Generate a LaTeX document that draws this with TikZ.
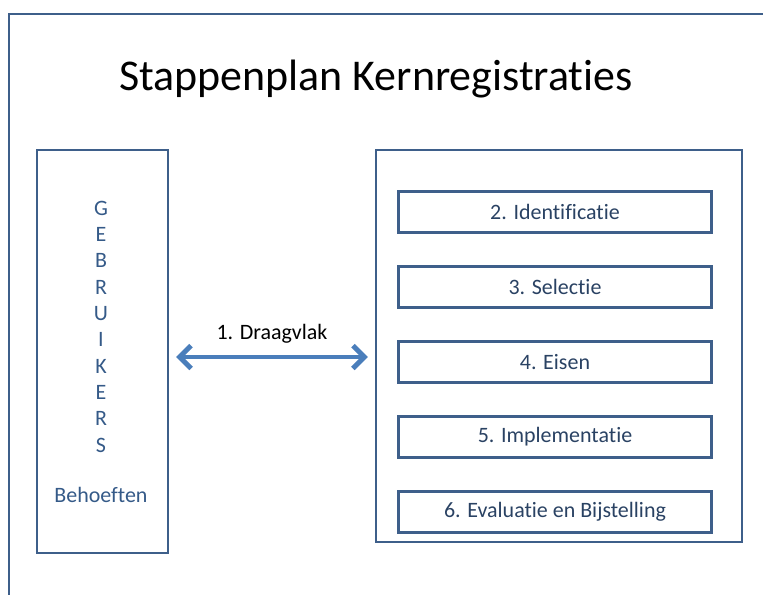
\documentclass[tikz,border=0pt]{standalone}
\usepackage{fontspec}
\setmainfont[Ligatures=CommonOff]{Carlito}
\usetikzlibrary{positioning,arrows.meta}
\usepackage{xcolor}
\definecolor{framblue}{HTML}{3E5F8A}
\definecolor{lettblue}{HTML}{355A88}
\definecolor{stapblue}{HTML}{2A4263}
\definecolor{pijlblue}{HTML}{4A7EBB}

\begin{document}
\begin{tikzpicture}[%
		   kader/.style={draw=framblue,line width=1.3pt,rectangle},
		   stapbox/.style={draw=framblue,line width=1.7pt,rectangle,minimum width=6.26cm,minimum height=0.82cm,text=stapblue,font=\fontsize{12.5}{14}\selectfont},
		   letter/.style={text=lettblue,font=\fontsize{12.5}{14}\selectfont,inner sep=0pt},
		   draagvlak/.style={{Straight Barb[length=6.5pt,width=13pt]}-{Straight Barb[length=6.5pt,width=13pt]},line width=2.8pt,pijlblue}]

	    \useasboundingbox (0,0) rectangle (15.26,-11.88);
	    \draw[draw=framblue,line width=1.1pt] (15.4,-0.28) -- (0.18,-0.28) -- (0.18,-12);

	    \node[font=\fontsize{25}{30}\selectfont](titel) at (7.52,-1.58) {Stappenplan Kernregistraties};

	    \node[kader,minimum width=2.62cm,minimum height=8.06cm](gebr) at (2.05,-7.03) {};
	    \node[kader,minimum width=7.32cm,minimum height=7.84cm](plan) at (11.18,-6.92) {};

	    \foreach \ltr [count=\i] in {G,E,B,R,U,I,K,E,R,S}
	       { \node[letter](l-\i) at (2.02,-4.16-0.527*\i+0.527) {\ltr}; }
	    \node[letter](behoeften) at (2.02,-9.9) {Behoeften};

	    \foreach \desc [count=\y] in {%
	       2. Identificatie,%
	       3. Selectie,%
	       4. Eisen,%
	       5. Implementatie,%
	       6. Evaluatie en Bijstelling%
	       } { \ifnum\y=1 \node[stapbox](s-\y) at (11.1,-4.24) {\desc};
		   \else\node[stapbox,below=0.62cm of s-\z](s-\y) {\desc};
		   \fi
		   \global\let\z=\y% vorige stap
	       }

	    \coordinate (pijl) at (5.4,-7.14);
	    \draw[draagvlak,shorten <=4pt,shorten >=4pt] (gebr.east |- pijl) -- (plan.west |- pijl)
	       node[midway,above=3pt,text=black,font=\fontsize{12.5}{14}\selectfont](dv) {1. Draagvlak};
	\end{tikzpicture}
\end{document}
